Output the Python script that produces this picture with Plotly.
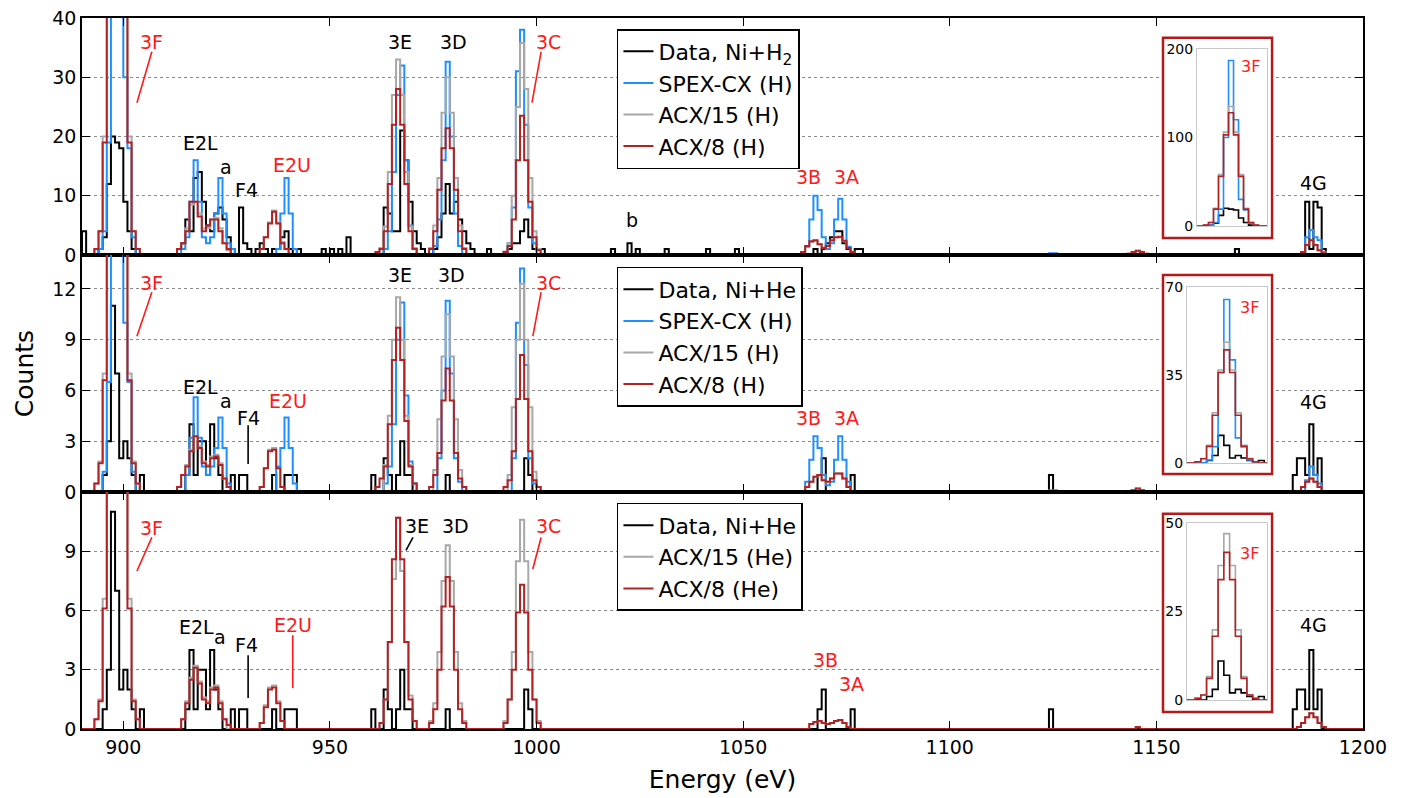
import plotly.graph_objects as go

# ---------------- data (bin lower edge in eV -> counts, bins are 1 eV wide) -------------
BIN_LO, BIN_HI = 885, 1205

# Panel 1 : Ni + H2
h2_data = {890: 4, 894: 1, 895: 3, 896: 12, 897: 20, 898: 19, 899: 18, 900: 9, 901: 4, 902: 1,
           913: 1, 914: 2, 915: 6, 916: 4, 917: 13, 918: 14, 919: 9, 920: 5, 921: 4, 922: 7,
           923: 8, 924: 6, 925: 3, 926: 1, 928: 8, 929: 2, 930: 1, 932: 1, 933: 2, 934: 1,
           936: 1, 937: 1, 938: 3, 939: 4, 940: 1, 942: 1, 948: 1, 950: 1, 952: 1, 954: 3,
           963: 8, 964: 7, 965: 4, 966: 4, 967: 21, 968: 16, 969: 9, 970: 4, 971: 2, 972: 1,
           975: 1, 976: 3, 977: 7, 978: 12, 979: 7, 980: 9, 981: 6, 982: 4, 983: 2, 984: 1,
           988: 1, 993: 1, 994: 2, 995: 2, 996: 4, 997: 6, 998: 3, 999: 1, 1000: 1, 1001: 1,
           1018: 1, 1022: 2, 1024: 1, 1031: 1, 1041: 1, 1048: 1,
           1067: 1, 1069: 1, 1070: 2, 1071: 3, 1072: 4, 1073: 4, 1074: 2, 1075: 1, 1077: 1, 1078: 1,
           1169: 1, 1186: 9, 1187: 1, 1188: 9, 1189: 8, 1190: 1}
h2_spex = {894: 1, 895: 4, 896: 19, 897: 100, 898: 187, 899: 120, 900: 30, 901: 18, 902: 3,
           914: 1, 915: 3, 916: 9, 917: 16, 918: 9, 919: 3, 920: 2, 921: 3, 922: 7, 923: 13,
           924: 7, 925: 2, 926: 1, 937: 1, 938: 7, 939: 13, 940: 7, 941: 1,
           963: 1, 964: 4, 965: 14, 966: 27, 967: 32, 968: 16, 969: 5, 970: 1,
           975: 1.5, 976: 6, 977: 16, 978: 32.6, 979: 20, 980: 7, 981: 1.5,
           993: 2, 994: 8, 995: 31, 996: 38, 997: 22, 998: 8, 999: 2,
           1065: 1.4, 1066: 6, 1067: 10, 1068: 7.6, 1069: 3, 1070: 1, 1071: 2, 1072: 6,
           1073: 9.5, 1074: 6, 1075: 1.4, 1076: 0.3, 1124: 0.3, 1125: 0.3,
           1185: 0.5, 1186: 3, 1187: 4.2, 1188: 3, 1189: 2.5, 1190: 0.5}
h2_acx15 = {893: 1, 894: 4, 895: 20, 896: 58, 897: 106, 898: 135, 899: 106, 900: 58, 901: 20,
            902: 4, 903: 1, 913: 1, 914: 2, 915: 4.5, 916: 8.5, 917: 9, 918: 7, 919: 4.5,
            920: 4.5, 921: 6, 922: 6.3, 923: 4.5, 924: 2, 925: 0.8,
            933: 1, 934: 3, 935: 5.5, 936: 7.5, 937: 5.5, 938: 2.2, 939: 1,
            962: 1.2, 963: 4.8, 964: 14, 965: 27, 966: 33, 967: 27, 968: 14, 969: 4.8, 970: 1.2,
            974: 1.2, 975: 5, 976: 13, 977: 24, 978: 30, 979: 24, 980: 13, 981: 5, 982: 1.2,
            992: 0.6, 993: 2, 994: 10, 995: 25, 996: 35.8, 997: 28, 998: 13, 999: 4, 1000: 1,
            1064: 0.5, 1065: 1.5, 1066: 2.2, 1067: 2.4, 1068: 1.8, 1069: 1.2, 1070: 1.5,
            1071: 2.4, 1072: 3, 1073: 3, 1074: 2.3, 1075: 1.2, 1076: 0.5,
            1143: 0.2, 1144: 0.5, 1145: 0.7, 1146: 0.5, 1147: 0.2,
            1185: 0.5, 1186: 1.7, 1187: 2.5, 1188: 1.7, 1189: 0.8, 1190: 0.3}
h2_acx8 = {893: 1, 894: 4, 895: 19, 896: 56, 897: 103, 898: 128, 899: 103, 900: 56, 901: 19,
           902: 4, 903: 1, 913: 1, 914: 2, 915: 4, 916: 9, 917: 9, 918: 6.5, 919: 4, 920: 5,
           921: 6, 922: 6, 923: 4, 924: 2, 925: 1,
           933: 1, 934: 3, 935: 5.3, 936: 7.3, 937: 5.3, 938: 2, 939: 1,
           961: 0.5, 962: 1, 963: 4, 964: 12, 965: 22, 966: 28, 967: 22, 968: 12, 969: 4, 970: 1,
           974: 1, 975: 4, 976: 11, 977: 18, 978: 21.4, 979: 18, 980: 11, 981: 4, 982: 1,
           992: 0.5, 993: 1.5, 994: 6, 995: 16, 996: 23.5, 997: 16, 998: 9, 999: 3, 1000: 0.8,
           1064: 0.5, 1065: 1.5, 1066: 2.3, 1067: 2.5, 1068: 1.8, 1069: 1.2, 1070: 1.5,
           1071: 2.5, 1072: 3, 1073: 3.1, 1074: 2.4, 1075: 1.2, 1076: 0.5,
           1143: 0.2, 1144: 0.5, 1145: 0.7, 1146: 0.5, 1147: 0.2,
           1185: 0.5, 1186: 1.7, 1187: 2.5, 1188: 1.7, 1189: 0.8, 1190: 0.3}

# Panels 2 and 3 : Ni + He data
he_data = {895: 1, 896: 3, 897: 11, 898: 7, 899: 2, 900: 3, 901: 2, 902: 1, 904: 1,
           915: 1, 916: 4, 917: 1, 918: 3, 919: 3, 920: 1, 921: 4, 922: 2, 923: 1,
           926: 1, 928: 1, 929: 1, 936: 1, 939: 1, 940: 1, 941: 1,
           960: 1, 963: 2, 964: 1, 966: 1, 967: 3, 968: 1, 969: 1, 978: 1, 997: 2, 998: 1,
           1068: 1, 1069: 2, 1076: 1, 1124: 1,
           1183: 1, 1184: 2, 1185: 2, 1186: 1, 1187: 4, 1188: 1, 1189: 2}
# Panel 2 : H models scaled to Ni + He
heH_spex = {895: 1.2, 896: 6.5, 897: 36, 898: 65, 899: 41, 900: 10, 901: 6.5, 902: 1.2,
            915: 1, 916: 3.2, 917: 5.6, 918: 3.2, 919: 1.5, 920: 1, 921: 1.5, 922: 2.6, 923: 4.4,
            924: 2.6, 925: 0.5, 937: 1.5, 938: 2.6, 939: 4.4, 940: 2.6, 941: 0.5,
            963: 0.5, 964: 1.5, 965: 4, 966: 9, 967: 11.2, 968: 5.7, 969: 1.8, 970: 0.5,
            976: 2, 977: 6, 978: 11.3, 979: 7, 980: 2, 981: 0.6,
            994: 2, 995: 10, 996: 13.2, 997: 7.5, 998: 2, 999: 0.5,
            1065: 0.6, 1066: 1.9, 1067: 3.3, 1068: 2.6, 1069: 1, 1070: 0.4, 1071: 0.6,
            1072: 1.9, 1073: 3.3, 1074: 1.9, 1075: 0.6, 1124: 0.1, 1125: 0.1,
            1186: 0.7, 1187: 1.5, 1188: 1, 1189: 0.5}
heH_acx15 = {893: 0.5, 894: 1.8, 895: 7, 896: 20, 897: 37, 898: 48, 899: 37, 900: 20, 901: 7,
             902: 1.8, 903: 0.5, 913: 0.3, 914: 1, 915: 1.6, 916: 2.5, 917: 3.3, 918: 2.7,
             919: 1.8, 920: 1.6, 921: 2.1, 922: 2.2, 923: 1.7, 924: 0.8, 925: 0.3,
             933: 0.3, 934: 1.4, 935: 2.5, 936: 2.6, 937: 1.4, 938: 0.3,
             963: 1.6, 964: 4.5, 965: 9, 966: 11.5, 967: 9, 968: 4.5, 969: 1.6, 970: 0.5,
             975: 1.3, 976: 4.3, 977: 8, 978: 10.5, 979: 8, 980: 4.3, 981: 1.3, 982: 0.3,
             993: 1, 994: 5, 995: 9, 996: 12.3, 997: 9, 998: 5, 999: 1.2, 1000: 0.3,
             1065: 0.3, 1066: 0.6, 1067: 0.9, 1068: 1, 1069: 0.7, 1070: 0.6, 1071: 0.8,
             1072: 1.1, 1073: 1.1, 1074: 0.8, 1075: 0.3, 1144: 0.1, 1145: 0.2, 1146: 0.1,
             1185: 0.3, 1186: 0.6, 1187: 0.8, 1188: 0.6, 1189: 0.3}
heH_acx8 = {893: 0.5, 894: 1.7, 895: 6.6, 896: 19, 897: 36, 898: 45, 899: 36, 900: 19, 901: 6.6,
            902: 1.7, 903: 0.5, 913: 0.3, 914: 1, 915: 1.5, 916: 2.4, 917: 3.3, 918: 2.6,
            919: 1.7, 920: 1.5, 921: 2, 922: 2.1, 923: 1.6, 924: 0.8, 925: 0.3,
            933: 0.3, 934: 1.4, 935: 2.4, 936: 2.5, 937: 1.4, 938: 0.3,
            961: 0.3, 962: 0.8, 963: 1.5, 964: 4, 965: 7.8, 966: 9.7, 967: 7.8, 968: 4.2,
            969: 1.5, 970: 0.5, 974: 0.3, 975: 1, 976: 2.3, 977: 5.4, 978: 7.3, 979: 5.4,
            980: 2.3, 981: 0.8, 982: 0.3,
            992: 0.3, 993: 0.7, 994: 2.4, 995: 5.5, 996: 8.1, 997: 5.5, 998: 2.4, 999: 0.7, 1000: 0.3,
            1065: 0.3, 1066: 0.6, 1067: 0.9, 1068: 1, 1069: 0.7, 1070: 0.6, 1071: 0.8,
            1072: 1.1, 1073: 1.1, 1074: 0.8, 1075: 0.3, 1144: 0.1, 1145: 0.2, 1146: 0.1,
            1185: 0.3, 1186: 0.6, 1187: 0.8, 1188: 0.6, 1189: 0.3}
# Panel 3 : He models
heHe_acx15 = {893: 0.5, 894: 1.5, 895: 6.6, 896: 19.8, 897: 38, 898: 47, 899: 38, 900: 19.8,
              901: 6.6, 902: 1.5, 903: 0.5, 914: 0.5, 915: 1.4, 916: 2.6, 917: 3.2, 918: 2.4,
              919: 1.6, 920: 1.4, 921: 2.1, 922: 2.2, 923: 1.4, 924: 0.5,
              933: 0.3, 934: 1.2, 935: 2.1, 936: 2.2, 937: 1.4, 938: 0.4,
              962: 0.3, 963: 1.5, 964: 4.4, 965: 7.6, 966: 10.7, 967: 8, 968: 4.4, 969: 1.7, 970: 0.4,
              974: 0.4, 975: 1.3, 976: 3.9, 977: 7.5, 978: 9.3, 979: 7.5, 980: 3.9, 981: 1.3, 982: 0.4,
              992: 0.4, 993: 1.5, 994: 3.9, 995: 8.5, 996: 10.6, 997: 8.5, 998: 3.9, 999: 1.5, 1000: 0.4,
              1066: 0.25, 1067: 0.35, 1068: 0.4, 1069: 0.3, 1070: 0.25, 1071: 0.3, 1072: 0.4,
              1073: 0.45, 1074: 0.3, 1075: 0.1, 1145: 0.1,
              1184: 0.1, 1185: 0.3, 1186: 0.6, 1187: 0.8, 1188: 0.6, 1189: 0.3, 1190: 0.1}
heHe_acx8 = {893: 0.5, 894: 1.4, 895: 6.1, 896: 18, 897: 34, 898: 41.7, 899: 34, 900: 18,
             901: 6.1, 902: 1.4, 903: 0.5, 914: 0.5, 915: 1.3, 916: 2.5, 917: 3.1, 918: 2.3,
             919: 1.5, 920: 1.3, 921: 2, 922: 2.1, 923: 1.3, 924: 0.5, 925: 0.2,
             933: 0.3, 934: 1.1, 935: 2, 936: 2.1, 937: 1.3, 938: 0.4,
             962: 0.3, 963: 1.5, 964: 4.4, 965: 8.6, 966: 10.7, 967: 8.6, 968: 4.4, 969: 1.5, 970: 0.4,
             974: 0.3, 975: 1, 976: 3, 977: 6.2, 978: 7.7, 979: 6.2, 980: 3, 981: 1, 982: 0.3,
             992: 0.3, 993: 1.5, 994: 3, 995: 5.9, 996: 7.3, 997: 5.9, 998: 3, 999: 1.5, 1000: 0.3,
             1066: 0.25, 1067: 0.35, 1068: 0.4, 1069: 0.3, 1070: 0.25, 1071: 0.3, 1072: 0.4,
             1073: 0.45, 1074: 0.3, 1075: 0.1, 1145: 0.1,
             1184: 0.1, 1185: 0.3, 1186: 0.6, 1187: 0.8, 1188: 0.6, 1189: 0.3, 1190: 0.1}

x_ticks = [900, 950, 1000, 1050, 1100, 1150, 1200]
y1_ticks = [0, 10, 20, 30, 40]
y2_ticks = [0, 3, 6, 9, 12]
y3_ticks = [0, 3, 6, 9]

# ---------------- styles ----------------
BLACK, BLUE, GREY, RED = "#000000", "#1e8fff", "#a8a8a8", "#b22222"
LABEL_RED = "#ff1a1a"
FONT = "DejaVu Sans"
LW = 2


def steps(d):
    edges = list(range(BIN_LO, BIN_HI + 1))
    vals = [d.get(e, 0) for e in range(BIN_LO, BIN_HI)]
    return edges, vals + [vals[-1]]


fig = go.Figure()

panels = [
    ("x", "y", "x4", "y4", "legend",
     [("Data, Ni+H<sub>2</sub>", h2_data, BLACK), ("SPEX-CX (H)", h2_spex, BLUE),
      ("ACX/15 (H)", h2_acx15, GREY), ("ACX/8 (H)", h2_acx8, RED)]),
    ("x2", "y2", "x5", "y5", "legend2",
     [("Data, Ni+He", he_data, BLACK), ("SPEX-CX (H)", heH_spex, BLUE),
      ("ACX/15 (H)", heH_acx15, GREY), ("ACX/8 (H)", heH_acx8, RED)]),
    ("x3", "y3", "x6", "y6", "legend3",
     [("Data, Ni+He", he_data, BLACK), ("ACX/15 (He)", heHe_acx15, GREY),
      ("ACX/8 (He)", heHe_acx8, RED)]),
]

for xa, ya, xi, yi, leg, series in panels:
    for name, d, col in series:
        xs, ys = steps(d)
        fig.add_trace(go.Scatter(x=xs, y=ys, mode="lines", name=name,
                                 line=dict(color=col, width=LW, shape="hv"),
                                 xaxis=xa, yaxis=ya, legend=leg, hoverinfo="skip"))
    for name, d, col in series:
        xs, ys = steps(d)
        fig.add_trace(go.Scatter(x=xs, y=ys, mode="lines", showlegend=False,
                                 line=dict(color=col, width=1.6, shape="hv"),
                                 xaxis=xi, yaxis=yi, hoverinfo="skip"))

H = 1 / 3
axis_common = dict(showline=True, linecolor="black", linewidth=1.5, mirror="ticks",
                   ticks="inside", ticklen=8, tickwidth=1, tickcolor="black",
                   zeroline=False, automargin=False, ticklabeloverflow="allow",
                   tickfont=dict(family=FONT, size=19, color="black"))
yaxis_common = dict(axis_common, showgrid=True, gridcolor="#8a8a8a", gridwidth=1.2, griddash="dot")

# the page body adds an 8 px offset, so the figure is 8 px smaller on each axis
fig.update_layout(
    width=1405, height=790,
    margin=dict(l=74, r=50, t=10, b=69, autoexpand=False),
    paper_bgcolor="white", plot_bgcolor="white",
    font=dict(family=FONT, color="black"),
    xaxis=dict(axis_common, domain=[0, 1], anchor="y", range=[890, 1200], tickvals=x_ticks,
               showticklabels=False, showgrid=False),
    xaxis2=dict(axis_common, domain=[0, 1], anchor="y2", range=[890, 1200], tickvals=x_ticks,
                showticklabels=False, showgrid=False, matches="x"),
    xaxis3=dict(axis_common, domain=[0, 1], anchor="y3", range=[890, 1200], tickvals=x_ticks,
                showgrid=False, matches="x",
                title=dict(text="Energy (eV)", font=dict(family=FONT, size=25), standoff=14)),
    yaxis=dict(yaxis_common, domain=[2 * H, 1], anchor="x", range=[0, 40], tickvals=y1_ticks),
    yaxis2=dict(yaxis_common, domain=[H, 2 * H], anchor="x2", range=[0, 14], tickvals=y2_ticks,
                title=dict(text="Counts", font=dict(family=FONT, size=25), standoff=12)),
    yaxis3=dict(yaxis_common, domain=[0, H], anchor="x3", range=[0, 12], tickvals=y3_ticks),
)

inset_ax = dict(showline=True, linecolor="#c8c8c8", linewidth=1, mirror=True, ticks="",
                showgrid=False, zeroline=False, automargin=False, ticklabeloverflow="allow")
insets = [("xaxis4", "yaxis4", "y4", "x4", [0.8704, 0.9251], [0.7075, 0.9564], [891.7, 905.7], [0, 200], [0, 100, 200]),
          ("xaxis5", "yaxis5", "y5", "x5", [0.8626, 0.9251], [0.3741, 0.6217], [891.6, 905.5], [0, 70], [0, 35, 70]),
          ("xaxis6", "yaxis6", "y6", "x6", [0.8626, 0.9251], [0.0408, 0.2897], [891.6, 905.5], [0, 50], [0, 25, 50])]
for xk, yk, ya, xa, xd, yd, xr, yr, tv in insets:
    fig.layout[xk] = dict(inset_ax, domain=xd, anchor=ya, range=xr, showticklabels=False)
    fig.layout[yk] = dict(inset_ax, domain=yd, anchor=xa, range=yr, tickvals=tv,
                          tickfont=dict(family=FONT, size=14, color="black"))

leg_common = dict(xanchor="left", yanchor="top", bgcolor="white", bordercolor="black",
                  borderwidth=1.5, font=dict(family=FONT, size=22, color="black"),
                  itemwidth=30)
fig.update_layout(legend=dict(leg_common, x=0.4176, y=0.9845),
                  legend2=dict(leg_common, x=0.4176, y=0.6498),
                  legend3=dict(leg_common, x=0.4176, y=0.3179))

shapes = []
# inset frames (white box covering grid, red border)
for xr, yr, (y0, y1) in [("x", "y", (2.87, 36.66)), ("x2", "y2", (1.06, 12.82)), ("x3", "y3", (0.86, 10.9))]:
    shapes.append(dict(type="rect", xref=xr, yref=yr, x0=1151.6, x1=1178.0, y0=y0, y1=y1,
                       fillcolor="white", line=dict(color="#b51a1a", width=2.5), layer="between"))

def seg(xr, yr, x0, y0, x1, y1, col):
    shapes.append(dict(type="line", xref=xr, yref=yr, x0=x0, y0=y0, x1=x1, y1=y1,
                       line=dict(color=col, width=1.6), layer="above"))

seg("x", "y", 906.9, 34.3, 903.3, 25.7, LABEL_RED)
seg("x", "y", 1001.1, 34.3, 998.9, 25.7, LABEL_RED)
seg("x2", "y2", 906.9, 11.8, 903.3, 9.2, LABEL_RED)
seg("x2", "y2", 1001.1, 11.8, 999.1, 9.2, LABEL_RED)
seg("x2", "y2", 930.2, 3.94, 930.2, 1.65, BLACK)
seg("x3", "y3", 906.9, 9.7, 903.3, 8.0, LABEL_RED)
seg("x3", "y3", 1001.1, 9.7, 999.1, 8.1, LABEL_RED)
seg("x3", "y3", 930.2, 3.74, 930.2, 1.57, BLACK)
seg("x3", "y3", 941.0, 4.75, 941.0, 2.07, LABEL_RED)
seg("x3", "y3", 970.1, 9.7, 968.4, 9.04, BLACK)
fig.update_layout(shapes=shapes)

annots = []
def lab(xr, yr, x, y, t, col, size=19):
    annots.append(dict(xref=xr, yref=yr, x=x, y=y, text=t, showarrow=False,
                       font=dict(family=FONT, size=size, color=col)))

for t, x, y, c in [("3F", 906.9, 36, LABEL_RED), ("E2L", 918.6, 18.9, BLACK), ("a", 924.8, 14.9, BLACK),
                   ("F4", 929.9, 11, BLACK), ("E2U", 940.8, 15.2, LABEL_RED), ("3E", 967, 36, BLACK),
                   ("3D", 980, 36, BLACK), ("3C", 1003, 36, LABEL_RED), ("b", 1023.1, 5.9, BLACK),
                   ("3B", 1065.9, 13.2, LABEL_RED), ("3A", 1075.1, 13.2, LABEL_RED), ("4G", 1187.9, 12.2, BLACK)]:
    lab("x", "y", x, y, t, c)
for t, x, y, c in [("3F", 906.9, 12.35, LABEL_RED), ("E2L", 918.6, 6.2, BLACK), ("a", 924.9, 5.35, BLACK),
                   ("F4", 930.2, 4.4, BLACK), ("E2U", 939.9, 5.35, LABEL_RED), ("3E", 967, 12.8, BLACK),
                   ("3D", 979.5, 12.8, BLACK), ("3C", 1003, 12.35, LABEL_RED),
                   ("3B", 1065.9, 4.4, LABEL_RED), ("3A", 1075.1, 4.4, LABEL_RED), ("4G", 1187.9, 5.3, BLACK)]:
    lab("x2", "y2", x, y, t, c)
for t, x, y, c in [("3F", 906.9, 10.2, LABEL_RED), ("E2L", 917.8, 5.15, BLACK), ("a", 923.4, 4.65, BLACK),
                   ("F4", 929.9, 4.25, BLACK), ("E2U", 941, 5.25, LABEL_RED), ("3E", 971.1, 10.3, BLACK),
                   ("3D", 980.3, 10.3, BLACK), ("3C", 1003, 10.3, LABEL_RED),
                   ("3B", 1070, 3.5, LABEL_RED), ("3A", 1076.3, 2.3, LABEL_RED), ("4G", 1187.9, 5.25, BLACK)]:
    lab("x3", "y3", x, y, t, c)
lab("x4", "y4", 902.3, 179.7, "3F", LABEL_RED, 16)
lab("x5", "y5", 902.5, 62, "3F", LABEL_RED, 16)
lab("x6", "y6", 902.5, 41.5, "3F", LABEL_RED, 16)
fig.update_layout(annotations=annots)

fig.write_html("out.html")
